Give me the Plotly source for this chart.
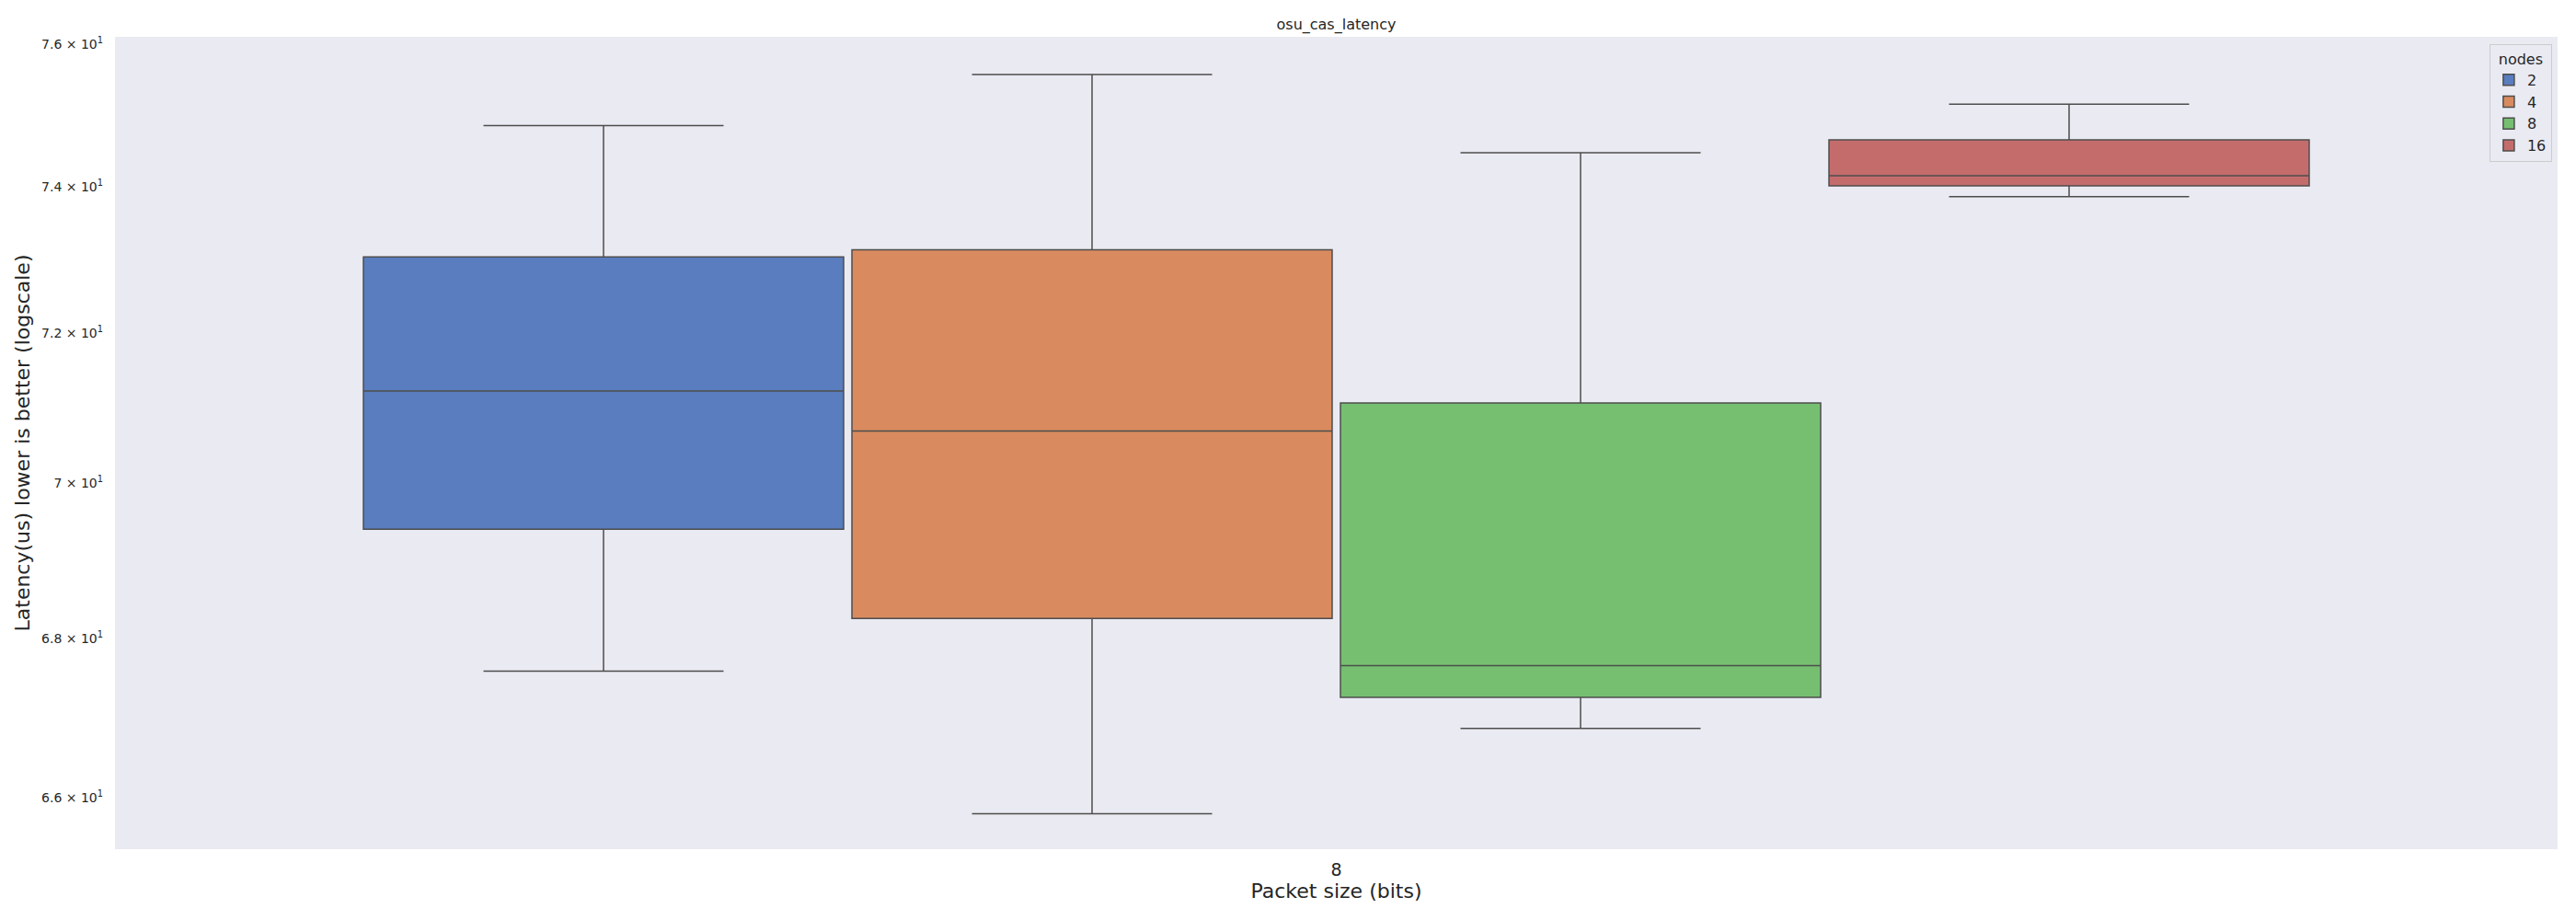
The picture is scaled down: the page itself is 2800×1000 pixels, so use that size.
import plotly.graph_objects as go

# Data (latency in us, log-scaled axis)
packet_sizes = ["8"]
nodes = ["2", "4", "8", "16"]
q1 = [69.40, 68.25, 67.25, 74.01]
median = [71.22, 70.69, 67.65, 74.15]
q3 = [73.03, 73.13, 71.06, 74.65]
lower_whisker = [67.58, 65.80, 66.86, 73.86]
upper_whisker = [74.85, 75.57, 74.47, 75.15]

y_tick_vals = [66, 68, 70, 72, 74, 76]
y_tick_text = ["6.6 × 10<sup>1</sup>", "6.8 × 10<sup>1</sup>", "7 × 10<sup>1</sup>",
               "7.2 × 10<sup>1</sup>", "7.4 × 10<sup>1</sup>", "7.6 × 10<sup>1</sup>"]

colors = ["#597DBF", "#D98B5F", "#76BF71", "#C46C6C"]
line_color = "#4d4d4d"

fig = go.Figure()
for i, n in enumerate(nodes):
    fig.add_trace(go.Box(
        x=packet_sizes,
        q1=[q1[i]], median=[median[i]], q3=[q3[i]],
        lowerfence=[lower_whisker[i]], upperfence=[upper_whisker[i]],
        name=n,
        fillcolor=colors[i],
        line=dict(color=line_color, width=1.5),
        whiskerwidth=0.5,
        boxpoints=False,
        hoverinfo="skip",
    ))

font_family = "DejaVu Sans"
fig.update_layout(
    width=2800, height=1000,
    margin=dict(l=125, r=20, t=40, b=77),
    paper_bgcolor="white",
    plot_bgcolor="#EAEAF2",
    boxmode="group",
    boxgap=0.2,
    boxgroupgap=0.017,
    font=dict(family=font_family, color="#262626"),
    title=dict(text="osu_cas_latency", x=0.5, xref="paper", y=0.974, yref="container",
               yanchor="middle", xanchor="center",
               font=dict(size=16, family=font_family, color="#262626")),
    showlegend=True,
    legend=dict(
        title=dict(text="nodes", side="top center", font=dict(size=16)),
        x=0.9977, y=0.991, xanchor="right", yanchor="top",
        bgcolor="#EAEAF2", bordercolor="#CCCCCC", borderwidth=1,
        font=dict(size=16, family=font_family, color="#262626"),
    ),
)
fig.update_xaxes(
    type="category",
    showgrid=False, zeroline=False, showline=False,
    ticks="", tickfont=dict(size=19, family=font_family, color="#262626"),
    ticklabelstandoff=9,
    title=dict(text="Packet size (bits)", font=dict(size=22, family=font_family, color="#262626"),
               standoff=2),
)
fig.update_yaxes(
    type="log",
    range=[1.81535, 1.881408],
    tickvals=y_tick_vals, ticktext=y_tick_text,
    showgrid=False, zeroline=False, showline=False,
    ticks="", tickfont=dict(size=14, family=font_family, color="#262626"),
    ticklabelstandoff=12,
    title=dict(text="Latency(us) lower is better (logscale)",
               font=dict(size=22, family=font_family, color="#262626"), standoff=6),
)

fig.write_html("out.html")
